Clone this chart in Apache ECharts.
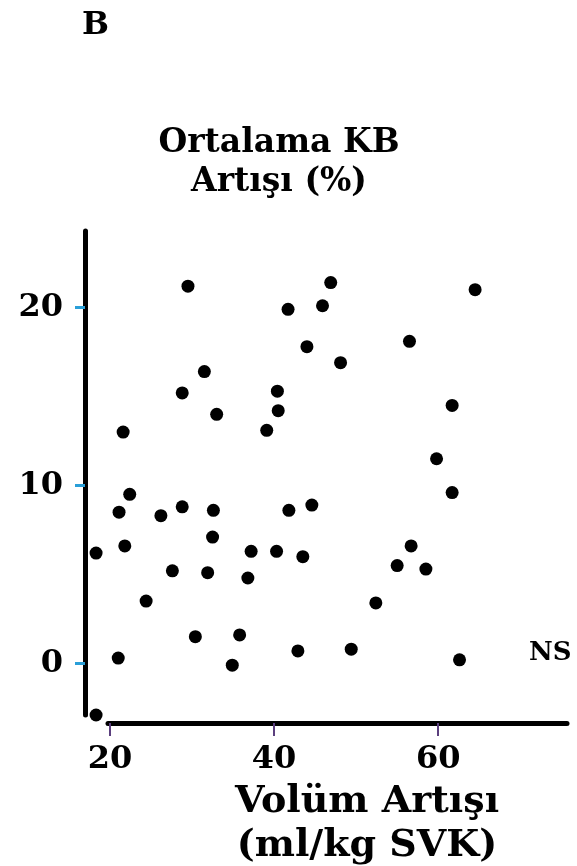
<!DOCTYPE html>
<html>
<head>
<meta charset="utf-8">
<script src="https://cdn.jsdelivr.net/npm/echarts@6/dist/echarts.min.js"></script>
<style>
html,body{margin:0;padding:0;background:#fff;}
#chart{width:577px;height:866px;}
</style>
</head>
<body>
<div id="chart"></div>
<script>
// Volume increase (ml/kg) per subject
const volumeIncrease = [18.3, 18.3, 21.1, 21.0, 21.6, 21.8, 22.4, 24.4, 26.2, 27.6,
  28.8, 28.8, 29.5, 30.4, 31.5, 31.9, 32.5, 32.6, 33.0, 34.9,
  35.8, 36.8, 37.2, 39.1, 40.3, 40.4, 40.5, 41.7, 41.8, 42.9,
  43.5, 44.0, 44.6, 45.9, 46.9, 48.1, 49.4, 52.4, 55.0, 56.5,
  56.7, 58.5, 59.8, 61.7, 61.7, 62.6, 64.5];
// Mean BP increase (%) per subject
const bpIncrease = [6.2, -2.9, 8.5, 0.3, 13.0, 6.6, 9.5, 3.5, 8.3, 5.2,
  8.8, 15.2, 21.2, 1.5, 16.4, 5.1, 7.1, 8.6, 14.0, -0.1,
  1.6, 4.8, 6.3, 13.1, 6.3, 15.3, 14.2, 19.9, 8.6, 0.7,
  6.0, 17.8, 8.9, 20.1, 21.4, 16.9, 0.8, 3.4, 5.5, 18.1,
  6.6, 5.3, 11.5, 9.6, 14.5, 0.2, 21.0];
const xTicks = [20, 40, 60];
const yTicks = [0, 10, 20];

const points = volumeIncrease.map((v, i) => [v, bpIncrease[i]]);

const FONT = '"DejaVu Serif", serif';
const chart = echarts.init(document.getElementById('chart'));
chart.setOption({
  animation: false,
  backgroundColor: '#ffffff',
  title: [
    { text: 'B', left: 77, top: 5, textStyle: { fontFamily: FONT, fontWeight: 'bold', fontSize: 32, color: '#000' } },
    { text: 'Ortalama KB\nArtışı (%)', left: 274, top: 119, textAlign: 'center',
      textStyle: { fontFamily: FONT, fontWeight: 'bold', fontSize: 33, lineHeight: 39, color: '#000' } },
    { text: 'NS', left: 524, top: 635, textStyle: { fontFamily: FONT, fontWeight: 'bold', fontSize: 26, color: '#000' } },
    { text: 'Volüm Artışı\n(ml/kg SVK)', left: 362, top: 775, textAlign: 'center',
      textStyle: { fontFamily: FONT, fontWeight: 'bold', fontSize: 38, lineHeight: 44, color: '#000' } }
  ],
  grid: [
    { left: 85, right: 10, top: 231, bottom: 151 },
    { left: 108, right: 10, top: 231, bottom: 151 }
  ],
  xAxis: [
    { type: 'value', gridIndex: 0, min: 16.95, max: 75.7, offset: 8,
      axisLine: { show: false, onZero: false },
      splitLine: { show: false },
      axisTick: { show: true, length: 13, customValues: xTicks, lineStyle: { color: '#5b3f7e', width: 2 } },
      axisLabel: { customValues: xTicks, margin: 21, fontFamily: FONT, fontWeight: 'bold', fontSize: 32, color: '#000' } },
    { type: 'value', gridIndex: 1, min: 0, max: 1, offset: 8,
      axisLine: { show: true, onZero: false, lineStyle: { color: '#000', width: 5 } },
      axisTick: { show: false }, axisLabel: { show: false }, splitLine: { show: false } }
  ],
  yAxis: [
    { type: 'value', gridIndex: 0, min: -2.9, max: 24.3,
      axisLine: { show: true, onZero: false, lineStyle: { color: '#000', width: 5 } },
      splitLine: { show: false },
      axisTick: { show: true, length: 10, customValues: yTicks, lineStyle: { color: '#2a9fd8', width: 3 } },
      axisLabel: { customValues: yTicks, margin: 22, fontFamily: FONT, fontWeight: 'bold', fontSize: 32, color: '#000' } },
    { type: 'value', gridIndex: 1, show: false, min: 0, max: 1 }
  ],
  series: [{
    type: 'scatter',
    xAxisIndex: 0, yAxisIndex: 0,
    clip: false,
    symbol: 'circle',
    symbolSize: 13,
    itemStyle: { color: '#000', opacity: 1 },
    data: points
  }]
});
</script>
</body>
</html>
